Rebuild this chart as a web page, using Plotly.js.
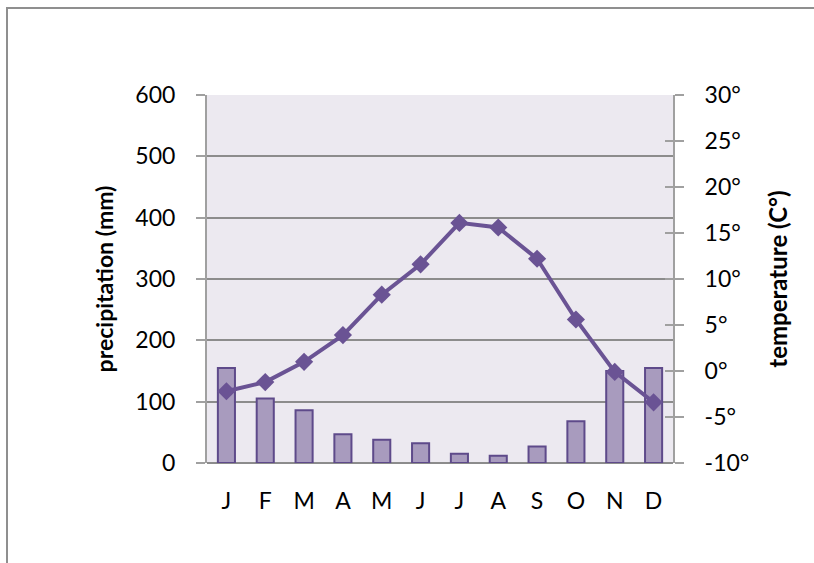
<!DOCTYPE html>
<html>
<head>
<meta charset="utf-8">
<script src="https://cdn.plot.ly/plotly-3.0.1.min.js"></script>
<style>
html,body{margin:0;padding:0;background:#fff;overflow:hidden;width:814px;height:563px;}
#frame{position:absolute;left:0;top:0;}
#chart{position:absolute;left:0;top:0;width:814px;height:563px;}
</style>
</head>
<body>
<svg id="frame" width="814" height="563">
  <polyline points="7,563 7,8 814,8" fill="none" stroke="#8f8f8f" stroke-width="2"/>
</svg>
<div id="chart"></div>
<script>
const months = ["J","F","M","A","M","J","J","A","S","O","N","D"];
const monthIdx = [0,1,2,3,4,5,6,7,8,9,10,11];
const precipitation = [155, 105, 86, 47, 38, 32, 15, 12, 27, 68, 150, 155];
const temperature = [-2.2, -1.2, 1.0, 3.9, 8.3, 11.6, 16.1, 15.6, 12.2, 5.6, -0.1, -3.4];
const tempTicks = [-10,-5,0,5,10,15,20,25,30];
const tempTickText = ["-10°","-5°","0°","5°","10°","15°","20°","25°","30°"];

const font = "Lato, 'Open Sans', sans-serif";

const traces = [
  {
    type: "bar", x: monthIdx, y: precipitation, yaxis: "y", width: 0.44,
    marker: {color: "#A89BBE", line: {color: "#5E4A8A", width: 2}},
    hoverinfo: "skip"
  },
  {
    type: "scatter", mode: "lines+markers", x: monthIdx, y: temperature, yaxis: "y2",
    line: {color: "#6A5394", width: 4},
    marker: {symbol: "diamond", size: 14, color: "#6A5394"},
    hoverinfo: "skip"
  },
  {type: "scatter", x: [0], y: [0], yaxis: "y3", mode: "markers", marker: {opacity: 0}, hoverinfo: "skip"}
];

const layout = {
  width: 814, height: 563,
  margin: {l: 207, r: 141, t: 95, b: 100},
  paper_bgcolor: "rgba(0,0,0,0)",
  plot_bgcolor: "#ECE9F0",
  showlegend: false,
  bargap: 0,
  font: {family: font, size: 23, color: "#000"},
  xaxis: {
    range: [-0.5, 11.5], tickvals: monthIdx, ticktext: months,
    showgrid: false, zeroline: false, showline: false, ticks: "",
    ticklabelstandoff: 22, tickfont: {family: font, size: 23}
  },
  yaxis: {
    range: [0, 600], dtick: 100, tick0: 0,
    showgrid: true, gridcolor: "#8C8C8C", gridwidth: 2,
    zeroline: true, zerolinecolor: "#8C8C8C", zerolinewidth: 2,
    showline: true, linecolor: "#A0A0A0", linewidth: 2,
    ticks: "outside", ticklen: 9, tickwidth: 2, tickcolor: "#A0A0A0",
    ticklabelstandoff: 16, tickfont: {family: font, size: 23},
    title: {text: "<b>precipitation (mm)</b>", font: {family: font, size: 23}, standoff: 15}
  },
  yaxis2: {
    overlaying: "y", side: "right", range: [-10, 30],
    tickvals: tempTicks, ticktext: tempTickText,
    showgrid: false, zeroline: false,
    showline: true, linecolor: "#A0A0A0", linewidth: 2,
    ticks: "outside", ticklen: 9, tickwidth: 2, tickcolor: "#A0A0A0",
    ticklabelstandoff: 16, tickfont: {family: font, size: 23},
    title: {text: "<b>temperature (C°)</b>", font: {family: font, size: 24}, standoff: 22}
  },
  yaxis3: {
    overlaying: "y", side: "right", range: [-10, 30],
    tickvals: tempTicks, showticklabels: false,
    showgrid: false, zeroline: false, showline: false,
    ticks: "inside", ticklen: 8, tickwidth: 2, tickcolor: "#A0A0A0"
  }
};

Plotly.newPlot("chart", traces, layout, {displayModeBar: false, staticPlot: true});
</script>
</body>
</html>
